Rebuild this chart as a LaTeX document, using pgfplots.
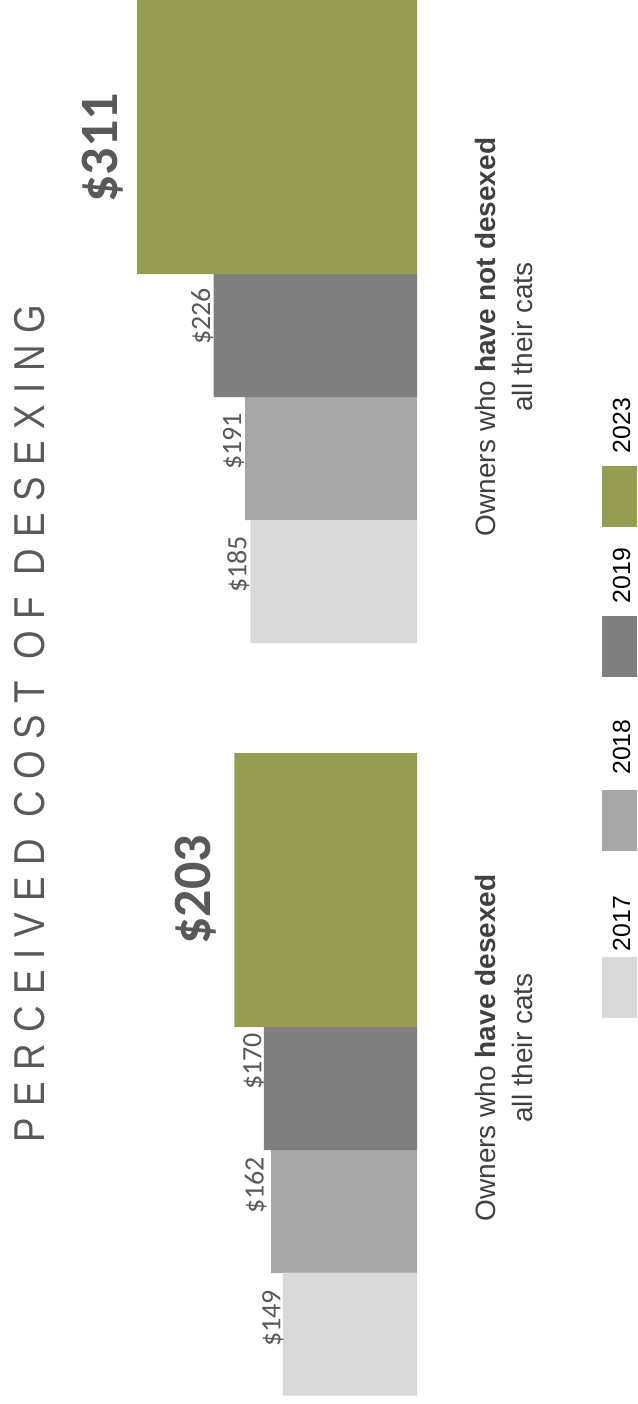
\documentclass[border=0pt]{standalone}
\usepackage{pgfplots}
\pgfplotsset{compat=1.18}
\usepackage{fontspec}
\setmainfont{Liberation Sans}
\newfontfamily\carlito{Carlito}
\newfontfamily\titlefont[FakeStretch=0.85,LetterSpace=26.5]{Liberation Sans}

\definecolor{c2017}{HTML}{D9D9D9}
\definecolor{c2018}{HTML}{A6A6A6}
\definecolor{c2019}{HTML}{7F7F7F}
\definecolor{c2023}{HTML}{969C50}
\definecolor{txt}{HTML}{595959}
\definecolor{cat}{HTML}{404040}

\begin{document}
\begin{tikzpicture}
\begin{axis}[
    hide axis, scale only axis,
    width=318.5pt, height=702pt,
    % x = cost in dollars, growing to the left; y = position down the page
    xmin=-244.44, xmax=463.33, x dir=reverse,
    ymin=0, ymax=1404, y dir=reverse,
    xbar, clip=false,
]
% two groups: "have not desexed" (top), "have desexed" (bottom)
\addplot[fill=c2023, draw=none, bar width=274, bar shift=0] coordinates {(311,137) (203,890)};
\addplot[fill=c2019, draw=none, bar width=123, bar shift=0] coordinates {(226,335.5) (170,1088.5)};
\addplot[fill=c2018, draw=none, bar width=123, bar shift=0] coordinates {(191,458.5) (162,1211.5)};
\addplot[fill=c2017, draw=none, bar width=123, bar shift=0] coordinates {(185,581.5) (149,1334)};

% value labels
\tikzset{small/.style={rotate=90, anchor=base, text=txt, font=\carlito\fontsize{14}{16}\selectfont},
         big/.style={rotate=90, anchor=base, text=txt, font=\carlito\bfseries\fontsize{27}{30}\selectfont}}
\node[small] at ([xshift=-1.75pt]axis cs:226,316.5) {\$226};
\node[small] at ([xshift=-2pt]axis cs:191,441.5) {\$191};
\node[small] at ([xshift=-2pt]axis cs:185,564.5) {\$185};
\node[small] at ([xshift=-1.25pt]axis cs:170,1061.5) {\$170};
\node[small] at ([xshift=-3.75pt]axis cs:162,1185.5) {\$162};
\node[small] at ([xshift=-1.25pt]axis cs:149,1318.5) {\$149};
\node[big] at ([xshift=-10pt]axis cs:311,148) {\$311};
\node[big] at ([xshift=-12pt]axis cs:203,890) {\$203};

% title
\node[rotate=90, anchor=base, text=txt, font=\titlefont\fontsize{21.6}{26}\selectfont]
    at (axis cs:413.33,724) {PERCEIVED COST OF DESEXING};

% group labels
\tikzset{grp/.style={rotate=90, anchor=base, text=cat, font=\fontsize{14}{17}\selectfont}}
\node[grp] at (axis cs:-86.67,337) {Owners who \textbf{have not desexed}};
\node[grp] at (axis cs:-127.78,337) {all their cats};
\node[grp] at (axis cs:-86.67,1048) {Owners who \textbf{have desexed}};
\node[grp] at (axis cs:-127.78,1048) {all their cats};

% legend
\fill[c2023] (axis cs:-205.56,466) rectangle (axis cs:-244.44,527);
\fill[c2019] (axis cs:-205.56,616) rectangle (axis cs:-244.44,677);
\fill[c2018] (axis cs:-205.56,790) rectangle (axis cs:-244.44,851);
\fill[c2017] (axis cs:-205.56,957) rectangle (axis cs:-244.44,1018);
\tikzset{leg/.style={rotate=90, anchor=base, text=black, font=\fontsize{12.4}{15}\selectfont}}
\node[leg] at (axis cs:-236.67,425.5) {2023};
\node[leg] at (axis cs:-236.67,575.5) {2019};
\node[leg] at (axis cs:-236.67,747) {2018};
\node[leg] at (axis cs:-236.67,923.5) {2017};
\end{axis}
\pgfresetboundingbox
\path[use as bounding box] (current axis.south west) rectangle (current axis.north east);
\end{tikzpicture}
\end{document}
